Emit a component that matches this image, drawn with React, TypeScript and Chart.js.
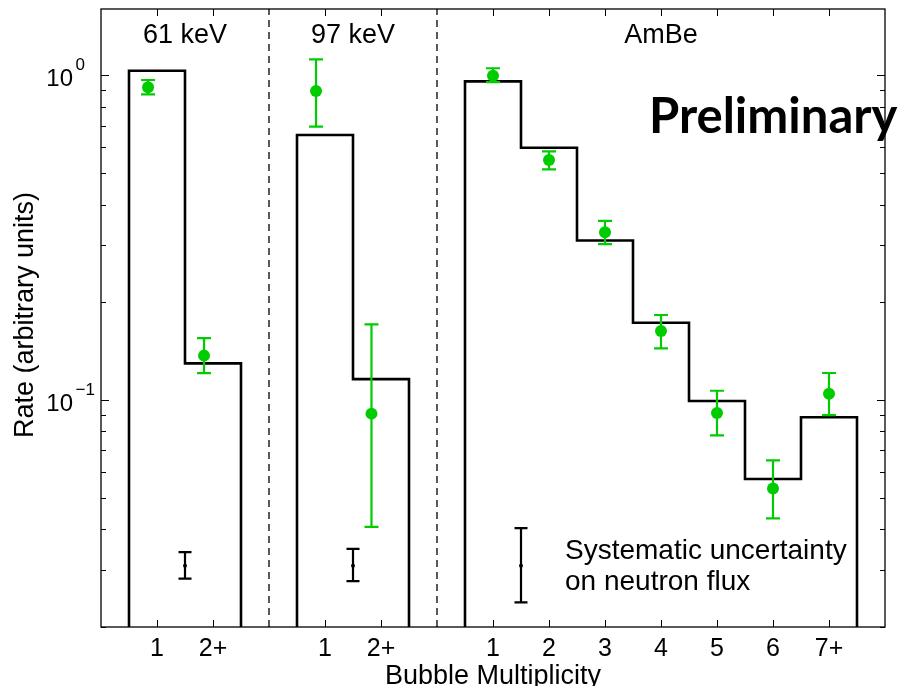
import React, { useEffect, useRef } from 'react';
import { Chart, registerables } from 'chart.js';

Chart.register(...registerables);

// ---------- data ----------
const groupTitles = ['61 keV', '97 keV', 'AmBe'];
const groupStarts = [0.5, 3.5, 6.5]; // left edge of the first bin of each group (x units)

const tickPositions = [1, 2, 4, 5, 7, 8, 9, 10, 11, 12, 13];
const tickLabels = ['1', '2+', '1', '2+', '1', '2', '3', '4', '5', '6', '7+'];
const yTickExponents = [-1, 0];

// simulated rates (histograms)
const sim61 = [1.033, 0.1297];
const sim97 = [0.655, 0.116];
const simAmBe = [0.958, 0.598, 0.31, 0.173, 0.0993, 0.0571, 0.0885];

// measured rates
const dataX61 = [0.84, 1.84];
const data61 = [0.918, 0.137];
const low61 = [0.874, 0.121];
const high61 = [0.967, 0.155];

const dataX97 = [3.84, 4.83];
const data97 = [0.895, 0.0908];
const low97 = [0.695, 0.0407];
const high97 = [1.12, 0.171];

const dataXAmBe = [7, 8, 9, 10, 11, 12, 13];
const dataAmBe = [0.997, 0.548, 0.3285, 0.1631, 0.0912, 0.0534, 0.1045];
const lowAmBe = [0.952, 0.513, 0.302, 0.1443, 0.0778, 0.0432, 0.0899];
const highAmBe = [1.051, 0.583, 0.356, 0.1827, 0.1068, 0.0652, 0.1211];

// systematic uncertainty on neutron flux
const sysX = [1.5, 4.5, 7.5];
const sysCenter = [0.0309, 0.0309, 0.0309];
const sysLow = [0.0282, 0.0277, 0.0238];
const sysHigh = [0.034, 0.0348, 0.0403];

const legendLines = ['Systematic uncertainty', 'on neutron flux'];
const xTitle = 'Bubble Multiplicity';
const yTitle = 'Rate (arbitrary units)';
const watermark = 'Preliminary';

// ---------- axis limits / styles ----------
const X_MIN = 0;
const X_MAX = 14;
const Y_MIN = 0.02;
const Y_MAX = 1.6;
const GREEN = '#00cc00';
const FONT = '"Liberation Sans", Arial, Helvetica, sans-serif';

const simGroups = [sim61, sim97, simAmBe];

function stepPoints(start: number, values: number[]) {
  const pts: { x: number; y: number }[] = [{ x: start, y: Y_MIN }];
  values.forEach((v, i) => {
    pts.push({ x: start + i, y: v });
    pts.push({ x: start + i + 1, y: v });
  });
  pts.push({ x: start + values.length, y: Y_MIN });
  return pts;
}

function zipXY(xs: number[], ys: number[]) {
  return xs.map((x, i) => ({ x, y: ys[i] }));
}

const decorPlugin = {
  id: 'decor',
  beforeDatasetDraw(chart: any, args: any) {
    const ds = chart.data.datasets[args.index];
    if (!ds.errLow) return;
    const ctx = chart.ctx;
    const xs = chart.scales.x;
    const ys = chart.scales.y;
    ctx.save();
    ctx.strokeStyle = ds.errColor;
    ctx.lineWidth = ds.errWidth;
    ctx.lineCap = 'butt';
    const cap = ds.capHalf;
    ds.data.forEach((p: any, i: number) => {
      const px = xs.getPixelForValue(p.x);
      const y1 = ys.getPixelForValue(ds.errLow[i]);
      const y2 = ys.getPixelForValue(ds.errHigh[i]);
      ctx.beginPath();
      ctx.moveTo(px, y1);
      ctx.lineTo(px, y2);
      ctx.moveTo(px - cap, y1);
      ctx.lineTo(px + cap, y1);
      ctx.moveTo(px - cap, y2);
      ctx.lineTo(px + cap, y2);
      ctx.stroke();
    });
    ctx.restore();
  },
  afterDraw(chart: any) {
    const ctx = chart.ctx;
    const xs = chart.scales.x;
    const ys = chart.scales.y;
    const { left, right, top, bottom } = chart.chartArea;
    ctx.save();

    // ticks
    ctx.strokeStyle = '#000';
    ctx.lineWidth = 1;
    ctx.beginPath();
    tickPositions.forEach((v) => {
      const px = Math.round(xs.getPixelForValue(v)) + 0.5;
      ctx.moveTo(px, bottom);
      ctx.lineTo(px, bottom - 7);
      ctx.moveTo(px, top);
      ctx.lineTo(px, top + 7);
    });
    [0.01, 0.1, 1].forEach((dec) => {
      for (let m = 1; m <= 9; m++) {
        const v = m * dec;
        if (v < Y_MIN * 0.999 || v > Y_MAX) continue;
        const py = Math.round(ys.getPixelForValue(v)) + 0.5;
        const len = m === 1 ? 8 : 5;
        ctx.moveTo(left, py);
        ctx.lineTo(left + len, py);
        ctx.moveTo(right, py);
        ctx.lineTo(right - len, py);
      }
    });
    ctx.stroke();

    // frame
    ctx.lineWidth = 1.3;
    ctx.strokeRect(left, top, right - left, bottom - top);

    ctx.fillStyle = '#000';
    // x tick labels
    ctx.font = `25px ${FONT}`;
    ctx.textAlign = 'center';
    ctx.textBaseline = 'alphabetic';
    tickPositions.forEach((v, i) => {
      ctx.fillText(tickLabels[i], xs.getPixelForValue(v), bottom + 29);
    });

    // y tick labels 10^n
    yTickExponents.forEach((e) => {
      const py = ys.getPixelForValue(Math.pow(10, e));
      ctx.font = `24px ${FONT}`;
      ctx.textAlign = 'right';
      ctx.fillText('10', left - 28, py + 11);
      ctx.font = `17px ${FONT}`;
      ctx.textAlign = 'left';
      ctx.fillText(e < 0 ? '\u2212' + Math.abs(e) : String(e), left - 25.5, py - 5);
    });

    // group titles
    ctx.font = `27px ${FONT}`;
    ctx.textAlign = 'center';
    groupTitles.forEach((t, g) => {
      const cx = groupStarts[g] + simGroups[g].length / 2;
      ctx.fillText(t, xs.getPixelForValue(cx), top + 34);
    });

    // axis titles
    ctx.fillText(xTitle, (left + right) / 2, bottom + 57);
    ctx.save();
    ctx.translate(33, (top + bottom) / 2 - 3);
    ctx.rotate(-Math.PI / 2);
    ctx.fillText(yTitle, 0, 0);
    ctx.restore();

    // legend text for systematic bar
    ctx.font = `28px ${FONT}`;
    ctx.textAlign = 'left';
    ctx.fillText(legendLines[0], 565, 559);
    ctx.fillText(legendLines[1], 565, 590);

    // watermark
    ctx.font = `bold 49px Lato, "Open Sans", sans-serif`;
    ctx.fillText(watermark, 649, 133);

    ctx.restore();
  },
};

export default function App() {
  const ref = useRef<HTMLCanvasElement | null>(null);

  useEffect(() => {
    if (!ref.current) return;
    const separators = groupStarts.slice(1).map((s, g) => {
      const prevEnd = groupStarts[g] + simGroups[g].length;
      return (prevEnd + s) / 2;
    });

    const datasets: any[] = [
      {
        type: 'scatter',
        label: 'Data',
        data: [...zipXY(dataX61, data61), ...zipXY(dataX97, data97), ...zipXY(dataXAmBe, dataAmBe)],
        backgroundColor: GREEN,
        borderColor: GREEN,
        pointRadius: 6,
        pointHoverRadius: 6,
        borderWidth: 0,
        errLow: [...low61, ...low97, ...lowAmBe],
        errHigh: [...high61, ...high97, ...highAmBe],
        errColor: GREEN,
        errWidth: 2.2,
        capHalf: 7,
      },
      {
        type: 'scatter',
        label: 'Systematic',
        data: zipXY(sysX, sysCenter),
        backgroundColor: '#000',
        borderColor: '#000',
        pointRadius: 2,
        pointHoverRadius: 2,
        borderWidth: 0,
        errLow: sysLow,
        errHigh: sysHigh,
        errColor: '#000',
        errWidth: 2.2,
        capHalf: 6.5,
      },
      ...simGroups.map((vals, g) => ({
        type: 'line',
        label: 'Sim ' + groupTitles[g],
        data: stepPoints(groupStarts[g], vals),
        borderColor: '#000',
        borderWidth: 2.6,
        pointRadius: 0,
        fill: false,
        tension: 0,
        borderJoinStyle: 'miter',
        borderCapStyle: 'butt',
      })),
      ...separators.map((sx) => ({
        type: 'line',
        label: 'sep',
        data: [
          { x: sx, y: Y_MIN },
          { x: sx, y: Y_MAX },
        ],
        borderColor: '#000',
        borderWidth: 1.3,
        borderDash: [7, 5],
        pointRadius: 0,
        fill: false,
      })),
    ];

    const chart = new Chart(ref.current, {
      type: 'scatter',
      data: { datasets },
      options: {
        animation: false,
        responsive: false,
        maintainAspectRatio: false,
        layout: { padding: { left: 101, right: 19, top: 9, bottom: 59 } },
        scales: {
          x: { type: 'linear', min: X_MIN, max: X_MAX, display: false },
          y: { type: 'logarithmic', min: Y_MIN, max: Y_MAX, display: false },
        },
        plugins: {
          legend: { display: false },
          tooltip: { enabled: false },
        },
        events: [],
      },
      plugins: [decorPlugin],
    } as any);
    return () => chart.destroy();
  }, []);

  return (
    <div style={{ position: 'fixed', left: 0, top: 0, width: 904, height: 686, background: '#fff' }}>
      <canvas ref={ref} width={904} height={686} style={{ display: 'block' }} />
    </div>
  );
}
